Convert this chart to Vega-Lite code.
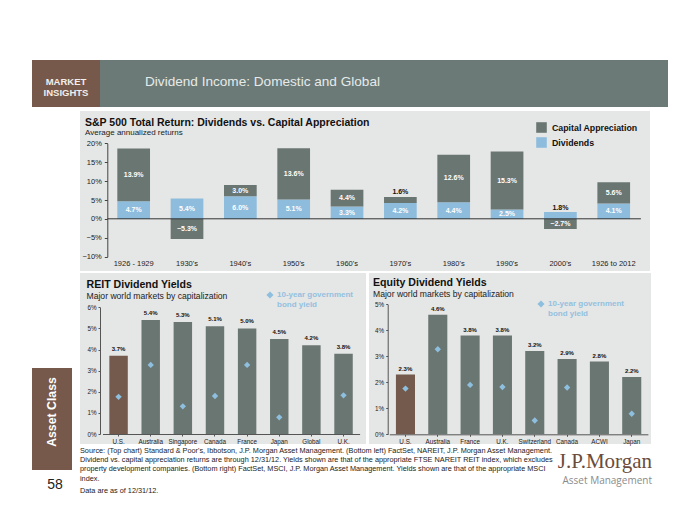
{
  "$schema": "https://vega.github.io/schema/vega-lite/v6.json",
  "background": "white",
  "padding": {"left": 32, "top": 60, "right": 0, "bottom": 0},
  "config": {"view": {"stroke": null}, "font": "Liberation Sans"},
  "title": {
    "text": [
      "Source: (Top chart) Standard & Poor's, Ibbotson, J.P. Morgan Asset Management. (Bottom left)  FactSet, NAREIT, J.P. Morgan Asset Management.",
      "Dividend vs. capital appreciation returns are through 12/31/12. Yields shown are that of the appropriate FTSE NAREIT REIT index, which excludes",
      "property development companies. (Bottom right) FactSet, MSCI, J.P. Morgan Asset Management. Yields shown are that of the appropriate MSCI",
      "index."
    ],
    "subtitle": "Data are as of 12/31/12.",
    "orient": "bottom",
    "anchor": "start",
    "dx": 48,
    "offset": -53,
    "font": "Liberation Sans",
    "fontSize": 7.3,
    "fontWeight": "normal",
    "color": "#222222",
    "lineHeight": 9.2,
    "subtitleFont": "Liberation Sans",
    "subtitleFontSize": 7.3,
    "subtitleColor": "#222222",
    "subtitlePadding": 5
  },
  "spacing": 4,
  "resolve": {"scale": {"color": "independent"}, "legend": {"color": "independent"}},
  "vconcat": [
    {
      "spacing": 0,
      "hconcat": [
        {
          "width": 68, "height": 47,
          "view": {"fill": "#76594b", "stroke": null},
          "data": {"values": [{}]},
          "mark": {"type": "text", "text": ["MARKET", "INSIGHTS"], "color": "#f2eeea", "fontWeight": "bold", "fontSize": 9.5, "lineHeight": 11, "align": "center", "baseline": "middle", "dy": -1.5}
        },
        {
          "width": 568, "height": 47,
          "view": {"fill": "#6b7a77", "stroke": null},
          "data": {"values": [{}]},
          "mark": {"type": "text", "text": ""},
          "title": {"text": "Dividend Income: Domestic and Global", "anchor": "start", "frame": "group", "offset": -29, "dx": 45, "font": "Liberation Sans", "fontSize": 13.6, "fontWeight": "normal", "color": "#e6eae8"}
        }
      ]
    },
    {
      "spacing": 8,
      "resolve": {"scale": {"color": "independent"}, "legend": {"color": "independent"}},
      "hconcat": [
        {
          "spacing": 0,
          "vconcat": [
            {"width": 40, "height": 257, "data": {"values": []}, "mark": "point"},
            {
              "width": 40, "height": 102,
              "view": {"fill": "#76594b", "stroke": null},
              "data": {"values": [{}]},
              "mark": {"type": "text", "text": "Asset Class", "angle": 270, "color": "white", "fontWeight": "bold", "fontSize": 12.3, "align": "center", "baseline": "middle", "dx": 7}
            },
            {
              "width": 40, "height": 30,
              "data": {"values": [{}]},
              "mark": {"type": "text", "text": "58", "fontSize": 14, "color": "#222222", "dx": 3}
            }
          ]
        },
        {
          "spacing": 2,
          "resolve": {"scale": {"color": "independent"}, "legend": {"color": "independent"}},
          "vconcat": [
            {
              "width": 570, "height": 160,
              "view": {"fill": "#e5e6e6", "stroke": null},
              "title": {"text": "S&P 500 Total Return: Dividends vs. Capital Appreciation", "subtitle": "Average annualized returns", "anchor": "start", "frame": "group", "offset": -26, "dx": 5, "font": "Liberation Sans", "fontSize": 10.5, "fontWeight": "bold", "color": "#111111", "subtitleFont": "Liberation Sans", "subtitleFontSize": 8, "subtitleColor": "#222222", "subtitlePadding": 1},
              "data": {"values": [
                {"period": "1926 - 1929", "series": "Dividends", "value": 0.047},
                {"period": "1926 - 1929", "series": "Capital Appreciation", "value": 0.139},
                {"period": "1930's", "series": "Dividends", "value": 0.054},
                {"period": "1930's", "series": "Capital Appreciation", "value": -0.053},
                {"period": "1940's", "series": "Dividends", "value": 0.060},
                {"period": "1940's", "series": "Capital Appreciation", "value": 0.030},
                {"period": "1950's", "series": "Dividends", "value": 0.051},
                {"period": "1950's", "series": "Capital Appreciation", "value": 0.136},
                {"period": "1960's", "series": "Dividends", "value": 0.033},
                {"period": "1960's", "series": "Capital Appreciation", "value": 0.044},
                {"period": "1970's", "series": "Dividends", "value": 0.042},
                {"period": "1970's", "series": "Capital Appreciation", "value": 0.016},
                {"period": "1980's", "series": "Dividends", "value": 0.044},
                {"period": "1980's", "series": "Capital Appreciation", "value": 0.126},
                {"period": "1990's", "series": "Dividends", "value": 0.025},
                {"period": "1990's", "series": "Capital Appreciation", "value": 0.153},
                {"period": "2000's", "series": "Dividends", "value": 0.018},
                {"period": "2000's", "series": "Capital Appreciation", "value": -0.027},
                {"period": "1926 to 2012", "series": "Dividends", "value": 0.041},
                {"period": "1926 to 2012", "series": "Capital Appreciation", "value": 0.056}
              ]},
              "resolve": {"axis": {"x": "independent"}},
              "layer": [
                {
                  "mark": {"type": "bar"},
                  "encoding": {
                    "x": {"field": "period", "type": "nominal", "title": null,
                      "scale": {"domain": ["1926 - 1929", "1930's", "1940's", "1950's", "1960's", "1970's", "1980's", "1990's", "2000's", "1926 to 2012"], "range": [27, 560.4], "paddingInner": 0.387, "paddingOuter": 0.1935},
                      "axis": {"orient": "bottom", "offset": -14.3, "domain": false, "ticks": false, "labelAngle": 0, "labelFontSize": 7.5, "labelColor": "#222222", "labelPadding": 3, "grid": false}},
                    "y": {"field": "value", "type": "quantitative", "stack": "zero", "title": null,
                      "scale": {"domain": [-0.1, 0.2], "range": [145.7, 32.3], "nice": false, "zero": false},
                      "axis": {"values": [-0.1, -0.05, 0, 0.05, 0.1, 0.15, 0.2], "format": ".0%", "offset": -27.3, "grid": false, "tickSize": 3, "labelPadding": 3, "labelFontSize": 7.5, "labelColor": "#222222", "domainColor": "#444444", "tickColor": "#444444", "labelOverlap": false}},
                    "color": {"field": "series", "type": "nominal",
                      "scale": {"domain": ["Capital Appreciation", "Dividends"], "range": ["#6a7672", "#8ebcdc"]},
                      "legend": {"orient": "none", "legendX": 456, "legendY": 11, "title": null, "symbolType": "square", "symbolSize": 112, "symbolStrokeWidth": 0, "labelFontSize": 8.8, "labelFontWeight": "bold", "labelColor": "#111111", "rowPadding": 4, "labelOffset": 5}},
                    "order": {"field": "series", "sort": "descending"}
                  }
                },
                {
                  "mark": {"type": "text", "color": "white", "fontSize": 7, "fontWeight": "bold", "baseline": "middle"},
                  "encoding": {
                    "x": {"field": "period", "type": "nominal", "title": null,
                      "axis": {"orient": "top", "offset": -107.3, "labels": false, "ticks": false, "domain": true, "domainColor": "#333333", "domainWidth": 1, "grid": false, "zindex": 1}},
                    "y": {"field": "value", "type": "quantitative", "stack": "zero", "bandPosition": 0.5, "title": null,
                      "axis": {"values": [-0.1, -0.05, 0, 0.05, 0.1, 0.15, 0.2], "format": ".0%", "offset": -27.3, "grid": false, "tickSize": 3, "labelPadding": 3, "labelFontSize": 7.5, "labelColor": "#222222", "domainColor": "#444444", "tickColor": "#444444", "labelOverlap": false}},
                    "detail": {"field": "series"},
                    "order": {"field": "series", "sort": "descending"},
                    "text": {"condition": {"test": "datum.value > 0 && datum.value < 0.02", "value": ""}, "field": "value", "type": "quantitative", "format": ".1%"}
                  }
                },
                {
                  "transform": [
                    {"stack": "value", "groupby": ["period"], "sort": [{"field": "series", "order": "descending"}], "as": ["v0", "v1"], "offset": "zero"},
                    {"filter": "datum.value > 0 && datum.value < 0.02"}
                  ],
                  "mark": {"type": "text", "color": "#111111", "fontSize": 7, "fontWeight": "bold", "baseline": "bottom", "dy": -1.5},
                  "encoding": {
                    "x": {"field": "period", "type": "nominal", "title": null, "axis": null},
                    "y": {"field": "v1", "type": "quantitative", "title": null,
                      "axis": {"values": [-0.1, -0.05, 0, 0.05, 0.1, 0.15, 0.2], "format": ".0%", "offset": -27.3, "grid": false, "tickSize": 3, "labelPadding": 3, "labelFontSize": 7.5, "labelColor": "#222222", "domainColor": "#444444", "tickColor": "#444444", "labelOverlap": false}},
                    "text": {"field": "value", "type": "quantitative", "format": ".1%"}
                  }
                }
              ]
            },
            {
              "spacing": 3,
              "resolve": {"scale": {"color": "independent"}, "legend": {"color": "independent"}},
              "hconcat": [
                {
                  "width": 286, "height": 171,
                  "view": {"fill": "#e5e6e6", "stroke": null},
                  "title": {"text": "REIT Dividend Yields", "subtitle": "Major world markets by capitalization", "anchor": "start", "frame": "group", "offset": -28, "dx": 6.5, "font": "Liberation Sans", "fontSize": 10.6, "fontWeight": "bold", "color": "#111111", "subtitleFont": "Liberation Sans", "subtitleFontSize": 8.6, "subtitleColor": "#222222", "subtitlePadding": 2},
                  "data": {"values": [
                    {"market": "U.S.", "yield": 0.037, "bond": 0.0176},
                    {"market": "Australia", "yield": 0.054, "bond": 0.0327},
                    {"market": "Singapore", "yield": 0.053, "bond": 0.0131},
                    {"market": "Canada", "yield": 0.051, "bond": 0.018},
                    {"market": "France", "yield": 0.050, "bond": 0.0327},
                    {"market": "Japan", "yield": 0.045, "bond": 0.0079},
                    {"market": "Global", "yield": 0.042, "bond": null},
                    {"market": "U.K.", "yield": 0.038, "bond": 0.0183}
                  ]},
                  "encoding": {
                    "x": {"field": "market", "type": "nominal", "title": null,
                      "scale": {"domain": ["U.S.", "Australia", "Singapore", "Canada", "France", "Japan", "Global", "U.K."], "range": [22.5, 279.6], "paddingInner": 0.426, "paddingOuter": 0.213},
                      "axis": {"offset": -10, "labelAngle": 0, "labelFontSize": 6.3, "labelColor": "#222222", "tickSize": 2, "labelPadding": 2, "domainColor": "#555555", "tickColor": "#555555", "grid": false}}
                  },
                  "layer": [
                    {
                      "mark": {"type": "bar"},
                      "encoding": {
                        "y": {"field": "yield", "type": "quantitative", "title": null,
                          "scale": {"domain": [0, 0.06], "range": [161, 34.3], "nice": false},
                          "axis": {"values": [0, 0.01, 0.02, 0.03, 0.04, 0.05, 0.06], "format": ".0%", "offset": -20, "grid": false, "tickSize": 2, "labelPadding": 2, "labelFontSize": 6.3, "labelColor": "#222222", "domainColor": "#555555", "tickColor": "#555555", "labelOverlap": false}},
                        "color": {"condition": {"test": "datum.market === 'U.S.'", "value": "#735a4d"}, "value": "#6a7672"}
                      }
                    },
                    {
                      "mark": {"type": "text", "baseline": "bottom", "dy": -4, "fontSize": 6, "fontWeight": "bold", "color": "#111111"},
                      "encoding": {
                        "y": {"field": "yield", "type": "quantitative", "title": null,
                          "axis": {"values": [0, 0.01, 0.02, 0.03, 0.04, 0.05, 0.06], "format": ".0%", "offset": -20, "grid": false, "tickSize": 2, "labelPadding": 2, "labelFontSize": 6.3, "labelColor": "#222222", "domainColor": "#555555", "tickColor": "#555555", "labelOverlap": false}},
                        "text": {"field": "yield", "type": "quantitative", "format": ".1%"}
                      }
                    },
                    {
                      "transform": [{"filter": "isValid(datum.bond)"}],
                      "mark": {"type": "point", "shape": "diamond", "filled": true, "size": 40, "opacity": 1},
                      "encoding": {
                        "y": {"field": "bond", "type": "quantitative", "title": null,
                          "axis": {"values": [0, 0.01, 0.02, 0.03, 0.04, 0.05, 0.06], "format": ".0%", "offset": -20, "grid": false, "tickSize": 2, "labelPadding": 2, "labelFontSize": 6.3, "labelColor": "#222222", "domainColor": "#555555", "tickColor": "#555555", "labelOverlap": false}},
                        "color": {"datum": "10-year government bond yield", "type": "nominal", "scale": {"range": ["#8ebfdf"]},
                          "legend": {"orient": "none", "legendX": 186, "legendY": 18, "title": null, "symbolType": "diamond", "symbolSize": 50, "symbolStrokeWidth": 0, "labelColor": "#93c1df", "labelFontWeight": "bold", "labelFontSize": 8, "labelExpr": "['10-year government', 'bond yield']", "labelOffset": 3}}
                      }
                    }
                  ]
                },
                {
                  "width": 282, "height": 171,
                  "view": {"fill": "#e5e6e6", "stroke": null},
                  "title": {"text": "Equity Dividend Yields", "subtitle": "Major world markets by capitalization", "anchor": "start", "frame": "group", "offset": -26, "dx": 4, "font": "Liberation Sans", "fontSize": 10.6, "fontWeight": "bold", "color": "#111111", "subtitleFont": "Liberation Sans", "subtitleFontSize": 8.6, "subtitleColor": "#222222", "subtitlePadding": 2},
                  "data": {"values": [
                    {"market": "U.S.", "yield": 0.023, "bond": 0.0176},
                    {"market": "Australia", "yield": 0.046, "bond": 0.0327},
                    {"market": "France", "yield": 0.038, "bond": 0.019},
                    {"market": "U.K.", "yield": 0.038, "bond": 0.0182},
                    {"market": "Switzerland", "yield": 0.032, "bond": 0.0053},
                    {"market": "Canada", "yield": 0.029, "bond": 0.018},
                    {"market": "ACWI", "yield": 0.028, "bond": null},
                    {"market": "Japan", "yield": 0.022, "bond": 0.0079}
                  ]},
                  "encoding": {
                    "x": {"field": "market", "type": "nominal", "title": null,
                      "scale": {"domain": ["U.S.", "Australia", "France", "U.K.", "Switzerland", "Canada", "ACWI", "Japan"], "range": [20.3, 278.9], "paddingInner": 0.41, "paddingOuter": 0.205},
                      "axis": {"offset": -9.7, "labelAngle": 0, "labelFontSize": 6.3, "labelColor": "#222222", "tickSize": 2, "labelPadding": 2, "domainColor": "#555555", "tickColor": "#555555", "grid": false}}
                  },
                  "layer": [
                    {
                      "mark": {"type": "bar"},
                      "encoding": {
                        "y": {"field": "yield", "type": "quantitative", "title": null,
                          "scale": {"domain": [0, 0.05], "range": [161.3, 31.3], "nice": false},
                          "axis": {"values": [0, 0.01, 0.02, 0.03, 0.04, 0.05], "format": ".0%", "offset": -18.7, "grid": false, "tickSize": 2, "labelPadding": 2, "labelFontSize": 6.3, "labelColor": "#222222", "domainColor": "#555555", "tickColor": "#555555", "labelOverlap": false}},
                        "color": {"condition": {"test": "datum.market === 'U.S.'", "value": "#735a4d"}, "value": "#6a7672"}
                      }
                    },
                    {
                      "mark": {"type": "text", "baseline": "bottom", "dy": -3, "fontSize": 6, "fontWeight": "bold", "color": "#111111"},
                      "encoding": {
                        "y": {"field": "yield", "type": "quantitative", "title": null,
                          "axis": {"values": [0, 0.01, 0.02, 0.03, 0.04, 0.05], "format": ".0%", "offset": -18.7, "grid": false, "tickSize": 2, "labelPadding": 2, "labelFontSize": 6.3, "labelColor": "#222222", "domainColor": "#555555", "tickColor": "#555555", "labelOverlap": false}},
                        "text": {"field": "yield", "type": "quantitative", "format": ".1%"}
                      }
                    },
                    {
                      "transform": [{"filter": "isValid(datum.bond)"}],
                      "mark": {"type": "point", "shape": "diamond", "filled": true, "size": 40, "opacity": 1},
                      "encoding": {
                        "y": {"field": "bond", "type": "quantitative", "title": null,
                          "axis": {"values": [0, 0.01, 0.02, 0.03, 0.04, 0.05], "format": ".0%", "offset": -18.7, "grid": false, "tickSize": 2, "labelPadding": 2, "labelFontSize": 6.3, "labelColor": "#222222", "domainColor": "#555555", "tickColor": "#555555", "labelOverlap": false}},
                        "color": {"datum": "10-year government bond yield", "type": "nominal", "scale": {"range": ["#8ebfdf"]},
                          "legend": {"orient": "none", "legendX": 168, "legendY": 27, "title": null, "symbolType": "diamond", "symbolSize": 50, "symbolStrokeWidth": 0, "labelColor": "#93c1df", "labelFontWeight": "bold", "labelFontSize": 8, "labelExpr": "['10-year government', 'bond yield']", "labelOffset": 3}}
                      }
                    }
                  ]
                }
              ]
            },
            {
              "width": 570, "height": 10,
              "data": {"values": []},
              "mark": "point",
              "title": {"text": "J.P.Morgan", "subtitle": "Asset Management", "orient": "bottom", "anchor": "end", "frame": "group", "offset": -6, "dx": 2, "font": "Liberation Serif", "fontSize": 21, "fontWeight": "normal", "color": "#6a4c3b", "subtitleFont": "Open Sans", "subtitleFontSize": 10, "subtitleColor": "#8b8b8b", "subtitlePadding": 4}
            }
          ]
        }
      ]
    }
  ]
}
